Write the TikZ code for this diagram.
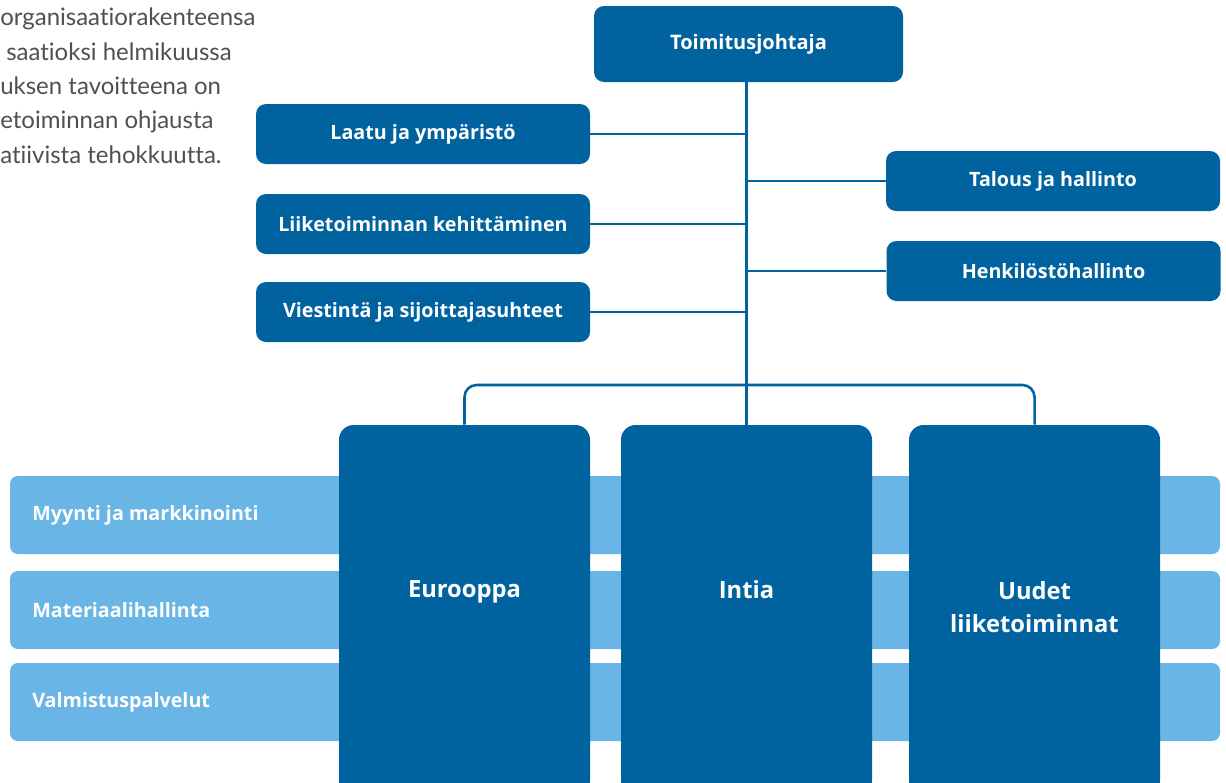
\documentclass[tikz,border=0pt]{standalone}
\usepackage{fontspec}
\setmainfont{Open Sans}
\newfontfamily\introfont{Lato}[Ligatures={NoCommon}]
\definecolor{dblue}{HTML}{00629F}
\definecolor{lblue}{HTML}{69B5E5}
\definecolor{graytext}{HTML}{505050}
\begin{document}
\begin{tikzpicture}[x=0.75pt,y=-0.75pt,
  topbox/.style={rectangle,rounded corners=7.5pt,fill=dblue,text=white,font=\bfseries\fontsize{15}{18}\selectfont,minimum width=231.75pt,minimum height=57pt,inner sep=0pt},
  sidebox/.style={rectangle,rounded corners=7.5pt,fill=dblue,text=white,font=\bfseries\fontsize{14.8}{18}\selectfont,minimum width=250.5pt,minimum height=45pt,inner sep=0pt},
  bigbox/.style={rectangle,rounded corners=11pt,fill=dblue,minimum width=188.25pt,minimum height=277.5pt,inner sep=0pt},
  biglabel/.style={text=white,font=\bfseries\fontsize{17.8}{25}\selectfont,align=center,inner sep=0pt},
  bar/.style={rectangle,rounded corners=6pt,fill=lblue,minimum width=907.5pt,minimum height=58.5pt,inner sep=0pt},
  barlabel/.style={text=white,font=\bfseries\fontsize{14.8}{18}\selectfont,anchor=west,inner sep=0pt},
  conn/.style={draw=dblue,line width=1.9pt},
  intro/.style={text=graytext,font=\introfont\fontsize{18}{20}\selectfont,anchor=base west,inner sep=0pt}
]
\clip (0,0) rectangle (1226,782);
\fill[white] (0,0) rectangle (1226,782);

% intro text (clipped at left)
\node[intro] (t1) at (0,25) {organisaatiorakenteensa};
\node[intro] (t2) at (6,60) {saatioksi helmikuussa};
\node[intro] (t3) at (0,94) {uksen tavoitteena on};
\node[intro] (t4) at (0,128) {etoiminnan ohjausta};
\node[intro] (t5) at (0,163) {atiivista tehokkuutta.};

% light bars
\node[bar] (b1) at (615,515) {};
\node[bar] (b2) at (615,610) {};
\node[bar] (b3) at (615,702) {};
\node[barlabel] (b1t) at (32,515) {Myynti ja markkinointi};
\node[barlabel] (b2t) at (32,610) {Materiaalihallinta};
\node[barlabel] (b3t) at (32,702) {Valmistuspalvelut};

% top
\node[topbox] (ceo) at (748.5,44) {Toimitusjohtaja};
\node[sidebox] (l1) at (423,134) {Laatu ja ympäristö};
\node[sidebox] (l2) at (423,224) {Liiketoiminnan kehittäminen};
\node[sidebox] (l3) at (423,312) {Viestintä ja sijoittajasuhteet};
\node[sidebox] (r1) at (1053,181) {Talous ja hallinto};
\node[sidebox] (r2) at (1053.5,271) {Henkilöstöhallinto};

% big boxes
\node[bigbox] (eu) at (464.5,610) {};
\node[bigbox] (in) at (746.5,610) {};
\node[bigbox] (uu) at (1034.5,610) {};
\node[biglabel] (eut) at (464.5,592) {Eurooppa};
\node[biglabel] (int) at (746.5,590) {Intia};
\node[biglabel] (uut) at (1034.5,607) {Uudet\\liiketoiminnat};

% connectors
\draw[conn] (ceo.south -| in.north) -- (in.north);
\draw[conn] (l1.east) -- (l1.east -| in.north);
\draw[conn] (l2.east) -- (l2.east -| in.north);
\draw[conn] (l3.east) -- (l3.east -| in.north);
\draw[conn] (r1.west) -- (r1.west -| in.north);
\draw[conn] (r2.west) -- (r2.west -| in.north);
\coordinate (busy) at (0,385);
\draw[conn,rounded corners=9pt] (eu.north) -- (eu.north |- busy) -- (uu.north |- busy) -- (uu.north);
\end{tikzpicture}
\end{document}
